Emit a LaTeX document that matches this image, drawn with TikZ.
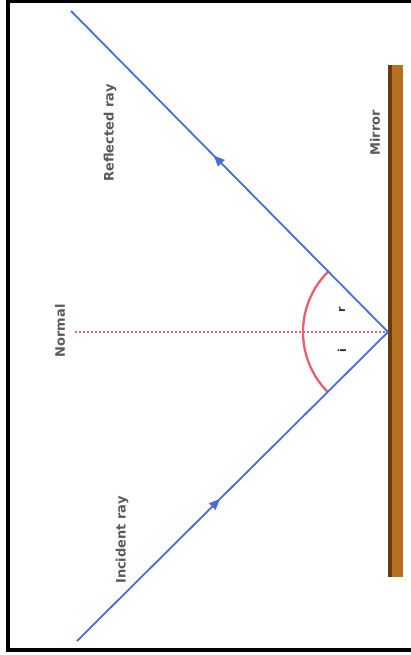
\documentclass[tikz,border=0pt]{standalone}
\usepackage{fontspec}
\setmainfont{DejaVu Sans}
\usepackage{tikz}
\usetikzlibrary{calc,arrows.meta,decorations.markings}
\definecolor{raycol}{RGB}{72, 108, 222}
\definecolor{anglecol}{RGB}{238, 92, 114}
\definecolor{mirrorfill}{RGB}{182, 112, 32}
\definecolor{mirroredge}{RGB}{104, 60, 12}
\definecolor{labelcol}{RGB}{90, 90, 90}

\tikzset{
  ray/.style={raycol, line width=1.8pt, postaction={decorate},
    decoration={markings, mark=at position #1 with {\arrow{Triangle[length=11pt,width=9pt]}}}},
  raylabel/.style={text=labelcol, font=\bfseries\fontsize{13}{15}\selectfont, rotate=90},
  anglelabel/.style={text=black!80, font=\bfseries\fontsize{11}{13}\selectfont, rotate=90},
}

\begin{document}
\begin{tikzpicture}[x=1pt, y=-1pt, >=Stealth]
  \useasboundingbox (0,0) rectangle (410,655);
  % Frame
  \draw[line width=4pt] (414,1.5) -- (8,1.5) -- (8,649.5) -- (414,649.5);

  % Mirror
  \fill[mirrorfill] (388,65) rectangle (403,577);
  \fill[mirroredge] (388,65) rectangle (391.5,577);
  \node[raylabel] (mirror) at (375,133) {Mirror};

  % Point of incidence, ray ends and normal end
  \coordinate (P) at (388,332);
  \coordinate (S) at (77,641);
  \coordinate (E) at (71,11);
  \coordinate (N) at (75,332);

  % Normal
  \draw[anglecol, line width=1.4pt, dash pattern=on 1.5pt off 2.5pt] (N) -- (P);
  \node[raylabel] (normal) at (60,331) {Normal};

  % Angle arc between the rays
  \draw[anglecol, line width=2.3pt] (P) ++(225:85) arc[start angle=225, end angle=135, radius=85];
  \node[anglelabel] (r) at (342,310) {r};
  \node[anglelabel] (i) at (342,351) {i};

  % Incident and reflected rays
  \draw[ray=0.46] (S) -- (P);
  \draw[ray=0.55] (P) -- (E);
  \node[raylabel] (incident) at (122,540) {Incident ray};
  \node[raylabel] (reflected) at (110,133) {Reflected ray};
\end{tikzpicture}
\end{document}
